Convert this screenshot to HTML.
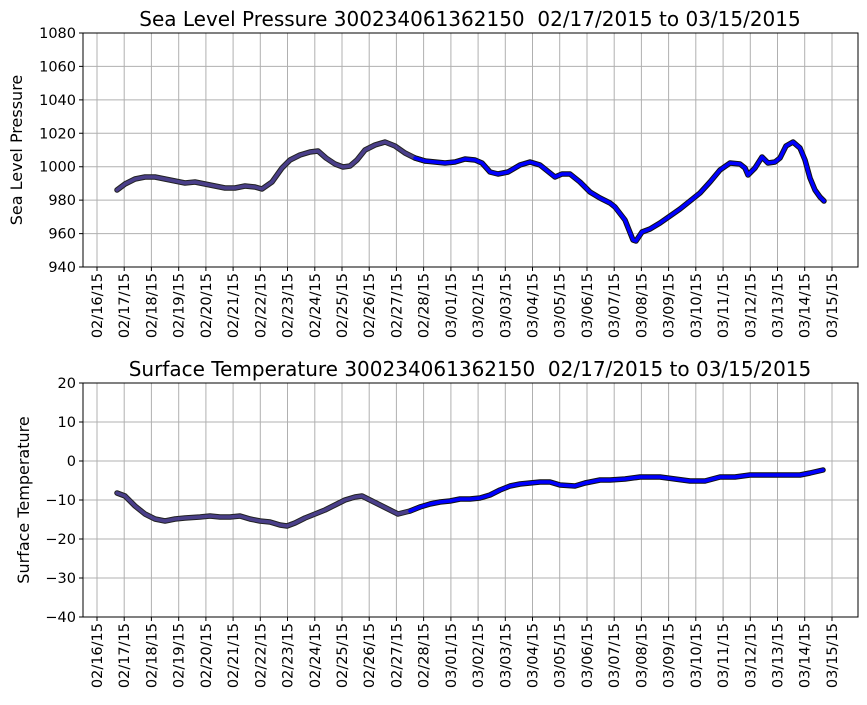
<!DOCTYPE html>
<html><head><meta charset="utf-8"><style>body{margin:0;background:#fff}svg{font-family:"DejaVu Sans","Liberation Sans",sans-serif}text{white-space:pre}</style></head><body>
<svg width="867" height="700" xmlns="http://www.w3.org/2000/svg">
<defs>
<g id="xg">
<path stroke="#b0b0b0" d="M97 0V234M124.2 0V234M151.4 0V234M178.7 0V234M205.9 0V234M233.1 0V234M260.3 0V234M287.5 0V234M314.8 0V234M342 0V234M369.2 0V234M396.4 0V234M423.6 0V234M450.9 0V234M478.1 0V234M505.3 0V234M532.5 0V234M559.7 0V234M587 0V234M614.2 0V234M641.4 0V234M668.6 0V234M695.8 0V234M723.1 0V234M750.3 0V234M777.5 0V234M804.7 0V234M832 0V234"/>
<path stroke="#000" d="M97 234v4M124.2 234v4M151.4 234v4M178.7 234v4M205.9 234v4M233.1 234v4M260.3 234v4M287.5 234v4M314.8 234v4M342 234v4M369.2 234v4M396.4 234v4M423.6 234v4M450.9 234v4M478.1 234v4M505.3 234v4M532.5 234v4M559.7 234v4M587 234v4M614.2 234v4M641.4 234v4M668.6 234v4M695.8 234v4M723.1 234v4M750.3 234v4M777.5 234v4M804.7 234v4M832 234v4"/>
<g font-size="14.5" text-anchor="end">
<text transform="translate(102,240) rotate(-90)">02/16/15</text>
<text transform="translate(129.2,240) rotate(-90)">02/17/15</text>
<text transform="translate(156.4,240) rotate(-90)">02/18/15</text>
<text transform="translate(183.7,240) rotate(-90)">02/19/15</text>
<text transform="translate(210.9,240) rotate(-90)">02/20/15</text>
<text transform="translate(238.1,240) rotate(-90)">02/21/15</text>
<text transform="translate(265.3,240) rotate(-90)">02/22/15</text>
<text transform="translate(292.5,240) rotate(-90)">02/23/15</text>
<text transform="translate(319.8,240) rotate(-90)">02/24/15</text>
<text transform="translate(347,240) rotate(-90)">02/25/15</text>
<text transform="translate(374.2,240) rotate(-90)">02/26/15</text>
<text transform="translate(401.4,240) rotate(-90)">02/27/15</text>
<text transform="translate(428.6,240) rotate(-90)">02/28/15</text>
<text transform="translate(455.9,240) rotate(-90)">03/01/15</text>
<text transform="translate(483.1,240) rotate(-90)">03/02/15</text>
<text transform="translate(510.3,240) rotate(-90)">03/03/15</text>
<text transform="translate(537.5,240) rotate(-90)">03/04/15</text>
<text transform="translate(564.7,240) rotate(-90)">03/05/15</text>
<text transform="translate(592,240) rotate(-90)">03/06/15</text>
<text transform="translate(619.2,240) rotate(-90)">03/07/15</text>
<text transform="translate(646.4,240) rotate(-90)">03/08/15</text>
<text transform="translate(673.6,240) rotate(-90)">03/09/15</text>
<text transform="translate(700.8,240) rotate(-90)">03/10/15</text>
<text transform="translate(728.1,240) rotate(-90)">03/11/15</text>
<text transform="translate(755.3,240) rotate(-90)">03/12/15</text>
<text transform="translate(782.5,240) rotate(-90)">03/13/15</text>
<text transform="translate(809.7,240) rotate(-90)">03/14/15</text>
<text transform="translate(837,240) rotate(-90)">03/15/15</text>
</g>
</g>
</defs>
<!-- top plot -->
<use href="#xg" transform="translate(0,33)"/>
<path stroke="#b0b0b0" d="M83 66.4H858M83 99.9H858M83 133.3H858M83 166.7H858M83 200.1H858M83 233.6H858"/>
<path stroke="#000" d="M79 33H83M79 66.4H83M79 99.9H83M79 133.3H83M79 166.7H83M79 200.1H83M79 233.6H83M79 267H83"/>
<g font-size="14.5" text-anchor="end">
<text x="76" y="38">1080</text><text x="76" y="71.4">1060</text><text x="76" y="104.9">1040</text><text x="76" y="138.3">1020</text><text x="76" y="171.7">1000</text><text x="76" y="205.1">980</text><text x="76" y="238.6">960</text><text x="76" y="272">940</text>
</g>
<rect x="83" y="33" width="775" height="234" fill="none" stroke="#000"/>
<text x="470" y="26" font-size="20" text-anchor="middle">Sea Level Pressure 300234061362150  02/17/2015 to 03/15/2015</text>
<text transform="translate(22,150) rotate(-90)" font-size="16" text-anchor="middle">Sea Level Pressure</text>
<g fill="none" stroke-linejoin="round" stroke-linecap="round">
<polyline stroke="#222" stroke-width="5.5" points="117,190 125,184 135,179 145,177 155,177 165,179 175,181 185,183 195,182 205,184 215,186 225,188 235,188 245,186 255,187 262,189 272,182 282,168 290,160 300,155 310,152 318,151 326,158 335,164 343,167 350,166 357,160 365,150 375,145 385,142 395,146 405,153 415,158 425,161"/>
<polyline stroke="#111" stroke-width="5.5" points="415,158 425,161 435,162 445,163 455,162 465,159 475,160 482,163 490,172 498,174 508,172 520,165 530,162 540,165 550,173 555,177 562,174 570,174 580,182 590,192 600,198 610,203 615,207 625,220 633,240 636,241 642,232 650,229 660,223 670,216 680,209 690,201 700,193 710,182 720,170 730,163 740,164 745,168 748,175 755,168 762,157 768,163 775,162 780,158 786,146 793,142 800,148 805,160 810,178 815,190 820,197 824,201"/>
<polyline stroke="#4a3f8a" stroke-width="3.5" points="117,190 125,184 135,179 145,177 155,177 165,179 175,181 185,183 195,182 205,184 215,186 225,188 235,188 245,186 255,187 262,189 272,182 282,168 290,160 300,155 310,152 318,151 326,158 335,164 343,167 350,166 357,160 365,150 375,145 385,142 395,146 405,153 415,158 425,161"/>
<polyline stroke="#0000ff" stroke-width="3.5" points="415,158 425,161 435,162 445,163 455,162 465,159 475,160 482,163 490,172 498,174 508,172 520,165 530,162 540,165 550,173 555,177 562,174 570,174 580,182 590,192 600,198 610,203 615,207 625,220 633,240 636,241 642,232 650,229 660,223 670,216 680,209 690,201 700,193 710,182 720,170 730,163 740,164 745,168 748,175 755,168 762,157 768,163 775,162 780,158 786,146 793,142 800,148 805,160 810,178 815,190 820,197 824,201"/>
</g>
<!-- bottom plot -->
<use href="#xg" transform="translate(0,383)"/>
<path stroke="#b0b0b0" d="M83 422H858M83 461H858M83 500H858M83 539H858M83 578H858"/>
<path stroke="#000" d="M79 383H83M79 422H83M79 461H83M79 500H83M79 539H83M79 578H83M79 617H83"/>
<g font-size="14.5" text-anchor="end">
<text x="76" y="388">20</text><text x="76" y="427">10</text><text x="76" y="466">0</text><text x="76" y="505">−10</text><text x="76" y="544">−20</text><text x="76" y="583">−30</text><text x="76" y="622">−40</text>
</g>
<rect x="83" y="383" width="775" height="234" fill="none" stroke="#000"/>
<text x="470" y="376" font-size="20" text-anchor="middle">Surface Temperature 300234061362150  02/17/2015 to 03/15/2015</text>
<text transform="translate(29,500) rotate(-90)" font-size="16" text-anchor="middle">Surface Temperature</text>
<g fill="none" stroke-linejoin="round" stroke-linecap="round">
<polyline stroke="#222" stroke-width="5.5" points="117,493 125,496 135,506 145,514 155,519 165,521 175,519 185,518 200,517 210,516 220,517 230,517 240,516 250,519 260,521 270,522 280,525 287,526 295,523 305,518 315,514 325,510 335,505 345,500 355,497 362,496 370,500 380,505 390,510 398,514 410,511 420,507"/>
<polyline stroke="#111" stroke-width="5.5" points="410,511 420,507 430,504 440,502 450,501 460,499 470,499 480,498 490,495 500,490 510,486 520,484 530,483 540,482 550,482 560,485 575,486 585,483 600,480 610,480 625,479 640,477 660,477 675,479 690,481 705,481 720,477 735,477 750,475 765,475 780,475 800,475 810,473 823,470"/>
<polyline stroke="#4a3f8a" stroke-width="3.5" points="117,493 125,496 135,506 145,514 155,519 165,521 175,519 185,518 200,517 210,516 220,517 230,517 240,516 250,519 260,521 270,522 280,525 287,526 295,523 305,518 315,514 325,510 335,505 345,500 355,497 362,496 370,500 380,505 390,510 398,514 410,511 420,507"/>
<polyline stroke="#0000ff" stroke-width="3.5" points="410,511 420,507 430,504 440,502 450,501 460,499 470,499 480,498 490,495 500,490 510,486 520,484 530,483 540,482 550,482 560,485 575,486 585,483 600,480 610,480 625,479 640,477 660,477 675,479 690,481 705,481 720,477 735,477 750,475 765,475 780,475 800,475 810,473 823,470"/>
</g>
</svg>
</body></html>
